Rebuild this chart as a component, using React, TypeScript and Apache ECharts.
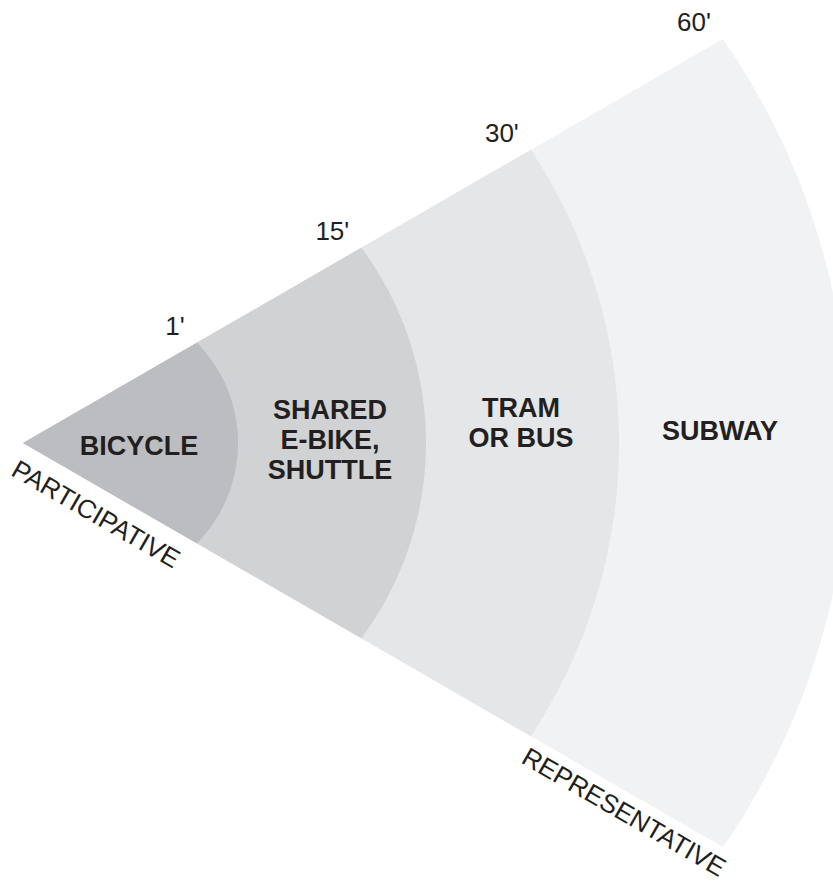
import React, { useEffect, useRef } from "react";
import * as echarts from "echarts";

// ---- data ----
const modeLabels = ["BICYCLE", "SHARED\nE-BIKE,\nSHUTTLE", "TRAM\nOR BUS", "SUBWAY"];
const minuteTicks = ["1'", "15'", "30'", "60'"];
// schematic reach of each ring (radial units) along the fan edges and along the fan axis
const edgeReach = [200.7, 390.6, 586.4, 808.2];
const axisReach = [215, 403, 596, 826];
const edgeNames = ["PARTICIPATIVE", "REPRESENTATIVE"];

// ---- styles / layout ----
const FILLS = ["#bcbdc0", "#d1d2d4", "#e5e6e8", "#f1f2f4"];
const INK = "#231f20";
const FONT = "'Liberation Sans', Arial, Helvetica, sans-serif";
const HALF = 30; // half opening angle of the fan, degrees
const CENTER = [23, 443];
const LABEL_AT: number[][] = [
  [116, 3],
  [307, -3],
  [498, -20],
  [697, -12],
];

export default function App() {
  const ref = useRef<HTMLDivElement>(null);

  useEffect(() => {
    if (!ref.current) return;
    const chart = echarts.init(ref.current, undefined, { renderer: "svg" });

    const renderItem = (params: any, api: any) => {
      const i = params.dataIndex;
      const d = api.value(0);
      const m = api.value(1);
      const cosH = Math.cos((HALF * Math.PI) / 180);
      const c = (m * m - d * d) / (2 * (m - d * cosH));
      const R = m - c;
      const pts: number[][] = [api.coord([0, 0])];
      const N = 120;
      for (let k = 0; k <= N; k++) {
        const deg = HALF - (2 * HALF * k) / N;
        const t = (deg * Math.PI) / 180;
        const s = Math.sin(t);
        const r = c * Math.cos(t) + Math.sqrt(R * R - c * c * s * s);
        pts.push(api.coord([r, deg]));
      }
      const tip = api.coord([d, HALF]);
      const lab = api.coord([LABEL_AT[i][0], 0]);
      return {
        type: "group",
        children: [
          {
            type: "polygon",
            shape: { points: pts },
            style: { fill: FILLS[i] },
            z2: 10 - i,
          },
          {
            type: "text",
            x: lab[0],
            y: lab[1] + LABEL_AT[i][1],
            z2: 100,
            style: {
              text: modeLabels[i],
              fill: INK,
              fontFamily: FONT,
              fontWeight: "bold",
              fontSize: 27,
              lineHeight: 30,
              align: "center",
              verticalAlign: "middle",
            },
          },
          {
            type: "text",
            x: tip[0] - 12,
            y: tip[1] - 17,
            z2: 100,
            style: {
              text: minuteTicks[i],
              fill: INK,
              fontFamily: FONT,
              fontSize: 26,
              align: "right",
              verticalAlign: "middle",
            },
          },
        ],
      };
    };

    chart.setOption({
      animation: false,
      backgroundColor: "#ffffff",
      polar: { center: CENTER, radius: 900 },
      angleAxis: {
        type: "value",
        min: -180,
        max: 180,
        startAngle: 180,
        clockwise: false,
        show: false,
      },
      radiusAxis: { type: "value", min: 0, max: 900, show: false },
      series: [
        {
          type: "custom",
          coordinateSystem: "polar",
          silent: true,
          renderItem,
          data: edgeReach.map((d, i) => [d, axisReach[i]]),
        },
      ],
      graphic: [
        {
          type: "text",
          x: 96,
          y: 514,
          rotation: -Math.PI / 6,
          style: {
            text: edgeNames[0],
            fill: INK,
            fontFamily: FONT,
            fontSize: 26,
            align: "center",
            verticalAlign: "middle",
          },
        },
        {
          type: "text",
          x: 624,
          y: 812,
          rotation: -Math.PI / 6,
          style: {
            text: edgeNames[1],
            fill: INK,
            fontFamily: FONT,
            fontSize: 26,
            align: "center",
            verticalAlign: "middle",
          },
        },
      ],
    });

    return () => chart.dispose();
  }, []);

  return (
    <div
      ref={ref}
      style={{ position: "absolute", left: 0, top: 0, width: 833, height: 882 }}
    />
  );
}
